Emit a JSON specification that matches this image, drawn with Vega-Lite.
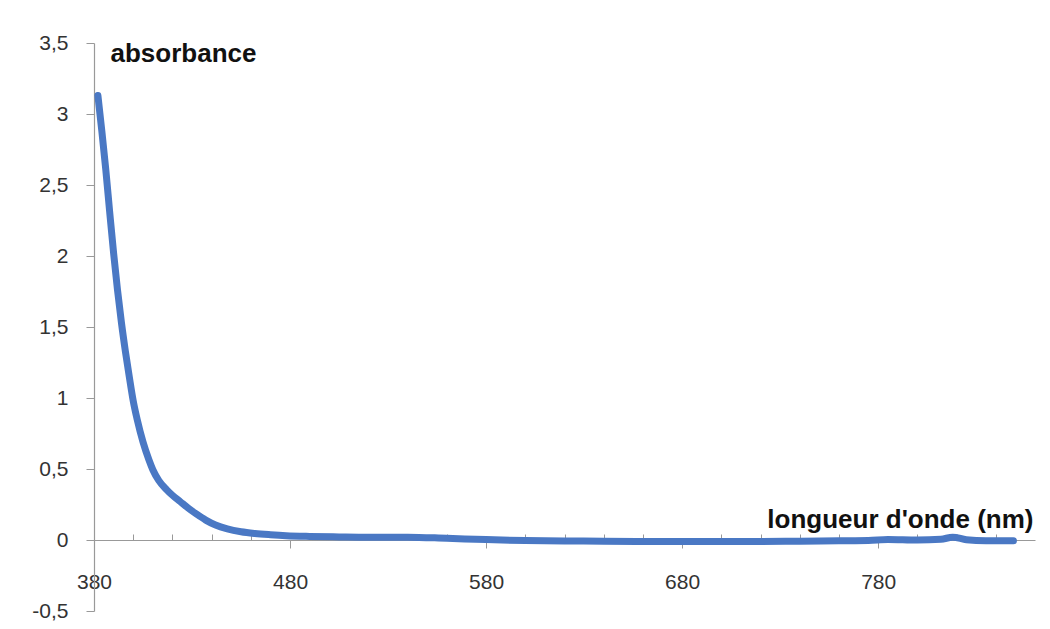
{
  "$schema": "https://vega.github.io/schema/vega-lite/v6.json",
  "width": 941,
  "height": 568,
  "autosize": {"type": "none"},
  "padding": {"left": 94, "top": 43, "right": 15, "bottom": 18},
  "background": "white",
  "config": {
    "view": {"stroke": null},
    "font": "Liberation Sans"
  },
  "data": {
    "values": [
      {"nm": 382, "A": 3.13}, {"nm": 384, "A": 2.88}, {"nm": 386, "A": 2.61},
      {"nm": 388, "A": 2.31}, {"nm": 390, "A": 2.02}, {"nm": 392, "A": 1.76},
      {"nm": 394, "A": 1.53}, {"nm": 396, "A": 1.33}, {"nm": 398, "A": 1.15},
      {"nm": 400, "A": 0.98}, {"nm": 402, "A": 0.85}, {"nm": 405, "A": 0.69},
      {"nm": 408, "A": 0.565}, {"nm": 410, "A": 0.495}, {"nm": 413, "A": 0.42},
      {"nm": 417, "A": 0.355}, {"nm": 420, "A": 0.315}, {"nm": 424, "A": 0.27},
      {"nm": 428, "A": 0.225}, {"nm": 432, "A": 0.185}, {"nm": 437, "A": 0.14},
      {"nm": 442, "A": 0.105}, {"nm": 448, "A": 0.078}, {"nm": 455, "A": 0.058},
      {"nm": 462, "A": 0.046}, {"nm": 470, "A": 0.037}, {"nm": 478, "A": 0.03},
      {"nm": 490, "A": 0.025}, {"nm": 505, "A": 0.022}, {"nm": 520, "A": 0.02},
      {"nm": 540, "A": 0.02}, {"nm": 560, "A": 0.012}, {"nm": 580, "A": 0.003},
      {"nm": 600, "A": -0.004}, {"nm": 620, "A": -0.007}, {"nm": 640, "A": -0.008},
      {"nm": 660, "A": -0.01}, {"nm": 680, "A": -0.01}, {"nm": 700, "A": -0.01},
      {"nm": 720, "A": -0.01}, {"nm": 740, "A": -0.008}, {"nm": 760, "A": -0.005},
      {"nm": 775, "A": -0.003}, {"nm": 785, "A": 0.004}, {"nm": 800, "A": 0.0},
      {"nm": 812, "A": 0.005}, {"nm": 818, "A": 0.02}, {"nm": 825, "A": 0.002},
      {"nm": 835, "A": -0.005}, {"nm": 849, "A": -0.005}
    ]
  },
  "layer": [
    {
      "mark": {"type": "line", "strokeOpacity": 0},
      "encoding": {
        "x": {
          "field": "nm", "type": "quantitative",
          "scale": {"domain": [380, 860], "nice": false, "zero": false},
          "axis": {
            "orient": "bottom", "offset": -71,
            "values": [400, 420, 440, 460, 500, 520, 540, 560, 600, 620, 640, 660, 700, 720, 740, 760, 800, 820, 840],
            "labels": false, "domain": false, "grid": false,
            "tickSize": -6, "tickColor": "#999999", "tickWidth": 1, "title": null
          }
        },
        "y": {
          "field": "A", "type": "quantitative",
          "scale": {"domain": [-0.5, 3.5], "nice": false, "zero": false}
        }
      }
    },
    {
      "mark": {"type": "line", "color": "#4a78c4", "strokeWidth": 7, "strokeCap": "round", "strokeJoin": "round", "interpolate": "monotone"},
      "encoding": {
        "x": {
          "field": "nm", "type": "quantitative",
          "scale": {"domain": [380, 860], "nice": false, "zero": false},
          "axis": {
            "orient": "bottom", "offset": -71,
            "values": [380, 480, 580, 680, 780],
            "grid": false, "labelFlush": false, "labelOverlap": false,
            "domainColor": "#999999", "domainWidth": 1.2,
            "tickColor": "#999999", "tickSize": 8, "tickWidth": 1,
            "labelFontSize": 21, "labelColor": "#333333", "labelPadding": 23,
            "labelBaseline": "top", "labelFont": "Liberation Sans",
            "title": "longueur d'onde (nm)",
            "titleFontSize": 26, "titleFontWeight": "bold", "titleColor": "#111111",
            "titleAlign": "right", "titleBaseline": "middle", "titleAngle": 0,
            "titleX": 939, "titleY": -21, "titleFont": "Liberation Sans"
          }
        },
        "y": {
          "field": "A", "type": "quantitative",
          "scale": {"domain": [-0.5, 3.5], "nice": false, "zero": false},
          "axis": {
            "values": [-0.5, 0, 0.5, 1, 1.5, 2, 2.5, 3, 3.5],
            "labelExpr": "replace(toString(datum.value), '.', ',')",
            "grid": false, "labelFlush": false, "labelOverlap": false,
            "domainColor": "#999999", "domainWidth": 1.2,
            "tickColor": "#999999", "tickSize": 8, "tickWidth": 1,
            "labelFontSize": 21, "labelColor": "#333333", "labelPadding": 18,
            "labelFont": "Liberation Sans",
            "title": "absorbance",
            "titleFontSize": 26, "titleFontWeight": "bold", "titleColor": "#111111",
            "titleAngle": 0, "titleAlign": "left", "titleBaseline": "middle",
            "titleX": 16, "titleY": 10, "titleFont": "Liberation Sans"
          }
        }
      }
    }
  ],
  "resolve": {"axis": {"x": "independent"}}
}
